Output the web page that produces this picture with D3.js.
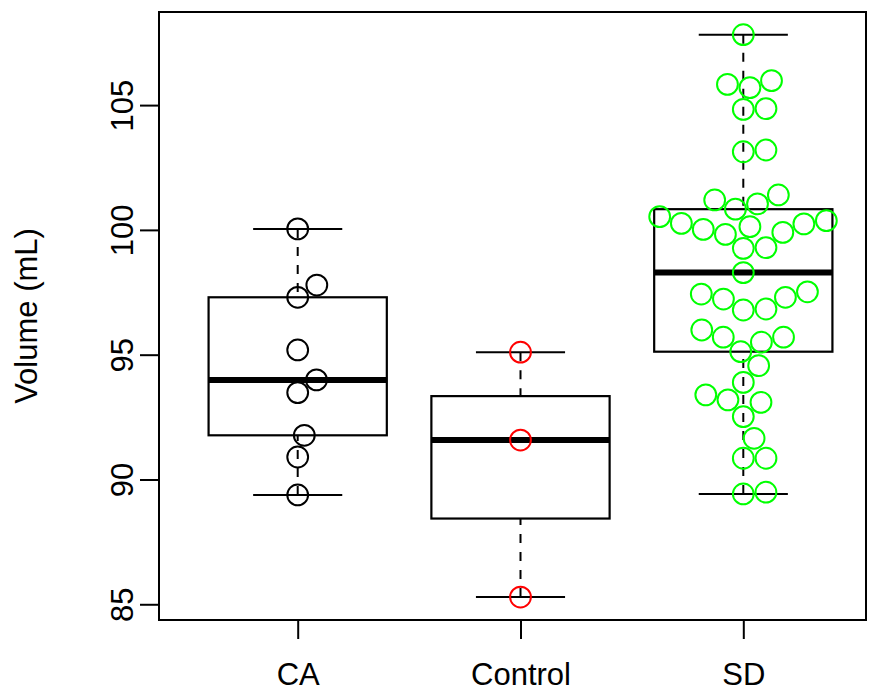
<!DOCTYPE html>
<html><head><meta charset="utf-8">
<script src="https://cdn.jsdelivr.net/npm/d3@7"></script>
<style>body{margin:0;background:#fff}svg{display:block}</style>
</head><body>
<svg id="chart" width="870" height="692"></svg>
<script>
// ---- data ----
const categories = ["CA", "Control", "SD"];
const groupColors = ["#000000", "#FF0000", "#00FF00"];
const caValues = [100.04, 97.30, 97.79, 95.19, 93.99, 93.48, 91.77, 90.90, 89.38];
const controlValues = [95.10, 91.58, 85.29];
const sdValues = [107.82, 105.83, 105.70, 105.98, 104.83, 104.86, 103.13, 103.20,
  101.20, 100.83, 101.04, 101.40, 100.53, 100.26, 100.02, 99.82, 100.13, 99.90,
  100.24, 100.37, 99.26, 99.29, 98.29, 97.43, 97.23, 96.79, 96.83, 97.30, 97.52,
  95.99, 95.70, 95.12, 95.50, 95.70, 94.56, 93.89, 93.39, 93.19, 93.09, 92.52,
  91.65, 90.85, 90.85, 89.42, 89.49];
const yTicks = [85, 90, 95, 100, 105];
const yTitle = "Volume (mL)";

const groups = [caValues, controlValues, sdValues];

// ---- layout ----
const svg = d3.select("#chart");
const frame = {left: 159, right: 866, top: 12, bottom: 620};
const y = d3.scaleLinear().domain([84.39, 108.73]).range([619.5, 12]);
const x = d3.scaleLinear().domain([1, 3]).range([297.7, 743.3]);
const unit = x(2) - x(1);
const boxW = 0.8 * unit, capW = 0.4 * unit;
const font = "'Liberation Sans', Arial, Helvetica, sans-serif";

// Tukey five-number summary (R's fivenum)
function fivenum(v) {
  const s = v.slice().sort((a, b) => a - b);
  const n = s.length;
  const n4 = Math.floor((n + 3) / 2) / 2;
  const d = [1, n4, (n + 1) / 2, n + 1 - n4, n];
  return d.map(k => 0.5 * (s[Math.floor(k) - 1] + s[Math.ceil(k) - 1]));
}
function boxStats(v) {
  const f = fivenum(v);
  const iqr = f[3] - f[1];
  const lo = d3.min(v.filter(a => a >= f[1] - 1.5 * iqr));
  const hi = d3.max(v.filter(a => a <= f[3] + 1.5 * iqr));
  return {lo, q1: f[1], med: f[2], q3: f[3], hi};
}

// beeswarm "swarm" layout (ascending priority) in pixel space
function swarm(values, d) {
  const pts = values.map(v => ({v, py: y(v), off: 0}))
    .sort((a, b) => a.v - b.v);
  for (let i = 1; i < pts.length; i++) {
    const p = pts[i];
    const prev = pts.slice(0, i).filter(q => Math.abs(q.py - p.py) < d);
    if (!prev.length) { p.off = 0; continue; }
    const cands = [0];
    prev.forEach(q => { const o = Math.sqrt(d * d - (p.py - q.py) ** 2); cands.push(q.off + o); });
    prev.forEach(q => { const o = Math.sqrt(d * d - (p.py - q.py) ** 2); cands.push(q.off - o); });
    let best = Infinity, bestAbs = Infinity;
    cands.forEach(c => {
      const bad = prev.some(q => ((c - q.off) ** 2 + (p.py - q.py) ** 2) < 0.999 * d * d);
      if (!bad && Math.abs(c) < bestAbs) { bestAbs = Math.abs(c); best = c; }
    });
    p.off = best;
  }
  return pts;
}

// ---- boxes ----
const g = svg.append("g");
groups.forEach((vals, i) => {
  const s = boxStats(vals);
  const cx = x(i + 1);
  g.append("line").attr("x1", cx).attr("x2", cx).attr("y1", y(s.hi)).attr("y2", y(s.q3))
    .attr("stroke", "#000").attr("stroke-width", 2).attr("stroke-dasharray", "9,9");
  g.append("line").attr("x1", cx).attr("x2", cx).attr("y1", y(s.lo)).attr("y2", y(s.q1))
    .attr("stroke", "#000").attr("stroke-width", 2).attr("stroke-dasharray", "9,9");
  [s.lo, s.hi].forEach(v => g.append("line")
    .attr("x1", cx - capW / 2).attr("x2", cx + capW / 2).attr("y1", y(v)).attr("y2", y(v))
    .attr("stroke", "#000").attr("stroke-width", 2));
  g.append("rect").attr("x", cx - boxW / 2).attr("width", boxW)
    .attr("y", y(s.q3)).attr("height", y(s.q1) - y(s.q3))
    .attr("fill", "none").attr("stroke", "#000").attr("stroke-width", 2.2);
  g.append("line").attr("x1", cx - boxW / 2).attr("x2", cx + boxW / 2)
    .attr("y1", y(s.med)).attr("y2", y(s.med))
    .attr("stroke", "#000").attr("stroke-width", 6);
});

// ---- points ----
groups.forEach((vals, i) => {
  const pts = swarm(vals, 22.7);
  svg.append("g").selectAll("circle").data(pts).join("circle")
    .attr("cx", d => x(i + 1) + d.off).attr("cy", d => d.py).attr("r", 10.4)
    .attr("fill", "none").attr("stroke", groupColors[i]).attr("stroke-width", 2);
});

// ---- frame ----
svg.append("rect").attr("x", frame.left).attr("y", frame.top)
  .attr("width", frame.right - frame.left).attr("height", frame.bottom - frame.top)
  .attr("fill", "none").attr("stroke", "#000").attr("stroke-width", 2);

// ---- axes ----
const ya = svg.append("g").attr("transform", `translate(${frame.left},0)`)
  .call(d3.axisLeft(y).tickValues(yTicks).tickSize(19));
ya.select(".domain").remove();
ya.selectAll(".tick line").attr("stroke", "#000").attr("stroke-width", 2);
ya.selectAll(".tick text").attr("x", null).attr("dy", null)
  .attr("transform", "translate(-26,0) rotate(-90)")
  .attr("text-anchor", "middle").attr("fill", "#000")
  .style("font-family", font).style("font-size", "31px");

const xa = svg.append("g").attr("transform", `translate(0,${frame.bottom})`)
  .call(d3.axisBottom(x).tickValues([1, 2, 3]).tickFormat(d => categories[d - 1]).tickSize(19));
xa.select(".domain").remove();
xa.selectAll(".tick line").attr("stroke", "#000").attr("stroke-width", 2);
xa.selectAll(".tick text").attr("y", 65).attr("dy", null)
  .attr("text-anchor", "middle").attr("fill", "#000")
  .style("font-family", font).style("font-size", "31px");

svg.append("text").attr("transform", `translate(37,${(frame.top + frame.bottom) / 2}) rotate(-90)`)
  .attr("text-anchor", "middle").style("font-family", font).style("font-size", "31px")
  .text(yTitle);
</script>
</body></html>
